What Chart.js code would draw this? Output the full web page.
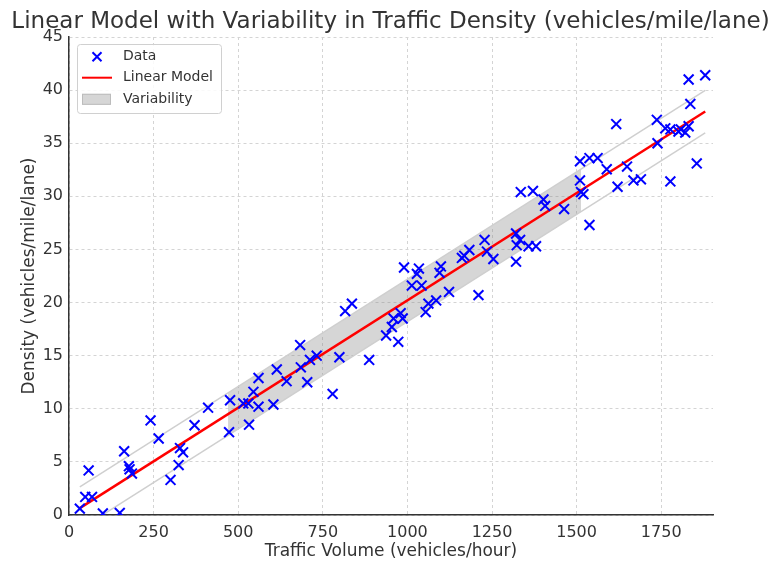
<!DOCTYPE html>
<html>
<head>
<meta charset="utf-8">
<script src="https://cdn.jsdelivr.net/npm/chart.js@4.4.1/dist/chart.umd.min.js"></script>
<style>
  html, body { margin: 0; padding: 0; background: #fff; }
</style>
</head>
<body>
<canvas id="trafficChart" width="781" height="571"></canvas>
<script>
// scatter data
const volume = [
  32, 48, 68, 58, 100, 150, 163, 177, 179, 186,
  241, 265, 300, 324, 328, 337, 371, 411, 473, 476,
  515, 530, 532, 545, 560, 560, 604, 614, 643, 683,
  685, 704, 712, 732, 779, 799, 816, 836, 887, 937,
  954, 959, 973, 980, 986, 990, 1013, 1028, 1034, 1042,
  1054, 1062, 1085, 1095, 1099, 1123, 1161, 1168, 1183, 1210,
  1228, 1235, 1254, 1321, 1323, 1321, 1333, 1335, 1358, 1371,
  1380, 1402, 1407, 1463, 1510, 1510, 1513, 1520, 1538, 1538,
  1562, 1589, 1617, 1621, 1649, 1668, 1690, 1737, 1739, 1762,
  1777, 1777, 1801, 1808, 1821, 1831, 1836, 1831, 1855, 1880
]
const density = [
  0.6, 1.7, 1.7, 4.2, 0.15, 0.2, 6.0, 4.6, 4.3, 3.9,
  8.9, 7.2, 3.3, 4.7, 6.3, 5.9, 8.45, 10.1, 7.8, 10.8,
  10.5, 10.5, 8.5, 11.6, 10.2, 12.9, 10.4, 13.7, 12.6, 16.0,
  13.9, 12.5, 14.6, 15.0, 11.4, 14.85, 19.2, 19.9, 14.6, 16.9,
  17.7, 18.5, 16.3, 19.0, 18.5, 23.3, 21.6, 22.7, 23.2, 21.6,
  19.1, 19.9, 20.2, 22.8, 23.4, 21.0, 24.2, 24.4, 24.95, 20.7,
  25.9, 24.8, 24.1, 26.5, 25.4, 23.85, 25.9, 30.4, 25.3, 30.5,
  25.3, 29.7, 29.1, 28.8, 33.3, 31.5, 30.4, 30.2, 27.3, 33.6,
  33.6, 32.55, 36.8, 30.9, 32.8, 31.5, 31.6, 37.2, 35.0, 36.4,
  31.4, 36.3, 36.1, 36.3, 36.0, 36.6, 38.7, 41.0, 33.1, 41.4
]

// fitted line and its +/- bounds (end points)
const modelVolume = [32, 1880]
const modelDensity = [0.65, 37.98]
const upperDensity = [2.65, 39.98]
const lowerDensity = [-1.35, 35.98]

// shaded variability band
const bandVolume = [470, 1513]
const bandUpper = [11.49, 32.56]
const bandLower = [7.49, 28.56]

const xTicks = [0, 250, 500, 750, 1000, 1250, 1500, 1750]
const yTicks = [0, 5, 10, 15, 20, 25, 30, 35, 40, 45]
const legendLabels = ['Data', 'Linear Model', 'Variability']

const toPoints = (xs, ys) => xs.map((x, i) => ({ x: x, y: ys[i] }))

Chart.defaults.font.family = "'DejaVu Sans', sans-serif"
Chart.defaults.color = '#333333'

// matplotlib-style legend inside the axes
const legendBox = {
  id: 'legendBox',
  afterDraw(chart) {
    const { ctx, chartArea } = chart
    const left = chartArea.left + 8
    const top = chartArea.top + 7
    const w = 144
    const h = 69
    ctx.save()
    ctx.fillStyle = 'rgba(255, 255, 255, 0.85)'
    ctx.strokeStyle = '#d0d0d0'
    ctx.lineWidth = 1
    ctx.beginPath()
    ctx.roundRect(left + 0.5, top + 0.5, w, h, 3)
    ctx.fill()
    ctx.stroke()

    const rows = [top + 12.7, top + 33.7, top + 55.3]
    const hx = left + 20

    // Data marker
    ctx.strokeStyle = '#0000ff'
    ctx.lineWidth = 2
    ctx.beginPath()
    ctx.moveTo(hx - 4.5, rows[0] - 4.5); ctx.lineTo(hx + 4.5, rows[0] + 4.5)
    ctx.moveTo(hx + 4.5, rows[0] - 4.5); ctx.lineTo(hx - 4.5, rows[0] + 4.5)
    ctx.stroke()

    // Linear Model line
    ctx.strokeStyle = '#ff0000'
    ctx.beginPath()
    ctx.moveTo(hx - 15, rows[1]); ctx.lineTo(hx + 15, rows[1])
    ctx.stroke()

    // Variability patch
    ctx.fillStyle = '#d6d6d6'
    ctx.strokeStyle = '#bcbcbc'
    ctx.lineWidth = 1
    ctx.fillRect(hx - 15, rows[2] - 5.5, 29, 11)
    ctx.strokeRect(hx - 14.5, rows[2] - 5, 28, 10)

    ctx.fillStyle = '#333333'
    ctx.font = "14px 'DejaVu Sans', sans-serif"
    ctx.textBaseline = 'middle'
    legendLabels.forEach((label, i) => ctx.fillText(label, left + 46, rows[i]))
    ctx.restore()
  }
}

const ctx = document.getElementById('trafficChart')
const config = {
  type: 'scatter',
  data: {
    datasets: [
      {
        label: 'Data',
        data: toPoints(volume, density),
        pointStyle: 'crossRot',
        pointRadius: 7,
        pointHoverRadius: 7,
        borderColor: '#0000ff',
        backgroundColor: '#0000ff',
        borderWidth: 2,
        order: 0
      },
      {
        label: 'Linear Model',
        data: toPoints(modelVolume, modelDensity),
        showLine: true,
        borderColor: '#ff0000',
        borderWidth: 2.5,
        pointRadius: 0,
        order: 1
      },
      {
        label: 'upper bound',
        data: toPoints(modelVolume, upperDensity),
        showLine: true,
        borderColor: '#cfcfcf',
        borderWidth: 1.5,
        pointRadius: 0,
        order: 2
      },
      {
        label: 'lower bound',
        data: toPoints(modelVolume, lowerDensity),
        showLine: true,
        borderColor: '#cfcfcf',
        borderWidth: 1.5,
        pointRadius: 0,
        order: 2
      },
      {
        label: 'Variability',
        data: toPoints(bandVolume, bandUpper),
        showLine: true,
        borderWidth: 0,
        borderColor: 'rgba(0,0,0,0)',
        backgroundColor: 'rgba(128, 128, 128, 0.32)',
        pointRadius: 0,
        fill: '+1',
        order: 3
      },
      {
        label: 'band lower',
        data: toPoints(bandVolume, bandLower),
        showLine: true,
        borderWidth: 0,
        borderColor: 'rgba(0,0,0,0)',
        pointRadius: 0,
        fill: false,
        order: 3
      }
    ]
  },
  options: {
    responsive: false,
    animation: false,
    layout: {
      padding: 0
    },
    plugins: {
      legend: { display: false },
      tooltip: { enabled: false },
      title: {
        display: true,
        text: 'Linear Model with Variability in Traffic Density (vehicles/mile/lane)',
        font: { size: 23, weight: 'normal' },
        color: '#333333',
        padding: { top: 8, bottom: 1.4 }
      }
    },
    scales: {
      x: {
        type: 'linear',
        min: 0,
        max: 1903,
        afterBuildTicks: (scale) => {
          scale.ticks = xTicks.map((v) => ({ value: v }))
        },
        afterFit: (scale) => { scale.height = 56 },
        ticks: {
          font: { size: 16 },
          color: '#333333',
          padding: 8,
          callback: (value) => String(value)
        },
        grid: { color: '#d4d4d4', lineWidth: 1, drawTicks: false },
        border: { display: true, color: '#333333', width: 1.5, dash: [3, 3] },
        title: {
          display: true,
          text: 'Traffic Volume (vehicles/hour)',
          font: { size: 17 },
          color: '#333333',
          padding: { top: 0, bottom: 9 }
        }
      },
      y: {
        type: 'linear',
        min: 0,
        max: 45,
        afterBuildTicks: (scale) => {
          scale.ticks = yTicks.map((v) => ({ value: v }))
        },
        afterFit: (scale) => { scale.width = 69 },
        ticks: { font: { size: 16 }, color: '#333333', padding: 6 },
        grid: { color: '#d4d4d4', lineWidth: 1, drawTicks: false },
        border: { display: true, color: '#333333', width: 1.5, dash: [3, 3] },
        title: {
          display: true,
          text: 'Density (vehicles/mile/lane)',
          font: { size: 17 },
          color: '#333333',
          padding: { top: 19, bottom: 0 }
        }
      },
      // empty right-hand spacer so the plot ends where the reference does
      spacer: {
        type: 'linear',
        position: 'right',
        display: true,
        afterFit: (scale) => { scale.width = 68 },
        ticks: { display: false },
        grid: { display: false, drawTicks: false },
        border: { display: false }
      }
    }
  },
  plugins: [legendBox]
}
new Chart(ctx, config)
</script>
</body>
</html>
